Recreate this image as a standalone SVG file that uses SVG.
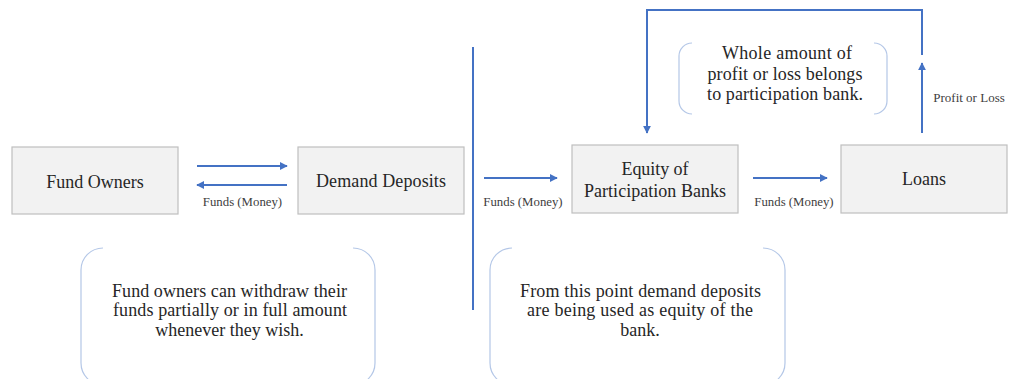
<svg xmlns="http://www.w3.org/2000/svg" width="1010" height="379" viewBox="0 0 1010 379">
  <style>
    text { fill: #262626; text-anchor: middle; }
    .box { fill: #f2f2f2; stroke: #bfbfbf; stroke-width: 1.2; }
    .small { fill: #404040; }
    .flow { fill: none; stroke: #4472c4; stroke-width: 2; }
    .bracket { fill: none; stroke: #b4c7e7; stroke-width: 1.2; }
  </style>
  <defs>
    <marker id="head" viewBox="0 0 10 10" refX="9" refY="5" markerWidth="4" markerHeight="4" orient="auto" markerUnits="strokeWidth">
      <path d="M0,0 L10,5 L0,10 z" fill="#4472c4"/>
    </marker>
  </defs>
  <rect width="1010" height="379" fill="#ffffff"/>

  <!-- divider between customer side and bank side -->
  <line x1="473" y1="47" x2="473" y2="310" stroke="#4472c4" stroke-width="2"/>

  <g id="fund-owners">
    <rect class="box" x="12" y="147" width="166" height="67"/>
    <text x="95" y="188" font-family="Liberation Serif, serif" font-size="18">Fund Owners</text>
  </g>

  <g id="demand-deposits">
    <rect class="box" x="298" y="147" width="166" height="67"/>
    <text x="381" y="187" font-family="Liberation Serif, serif" font-size="18" textLength="130" lengthAdjust="spacing">Demand Deposits</text>
  </g>

  <g id="equity">
    <rect class="box" x="572" y="145" width="166" height="68"/>
    <text x="655" y="175" font-family="Liberation Serif, serif" font-size="18" textLength="67" lengthAdjust="spacing">Equity of</text>
    <text x="655" y="197" font-family="Liberation Serif, serif" font-size="18" textLength="142" lengthAdjust="spacing">Participation Banks</text>
  </g>

  <g id="loans">
    <rect class="box" x="841" y="145" width="166" height="68"/>
    <text x="924" y="185" font-family="Liberation Serif, serif" font-size="18">Loans</text>
  </g>

  <g id="note-profit">
    <path class="bracket" d="M692,43 A13,13 0 0 0 679,56 L679,101 A13,13 0 0 0 692,114"/>
    <path class="bracket" d="M874,43 A13,13 0 0 1 887,56 L887,101 A13,13 0 0 1 874,114"/>
    <text x="787" y="59" font-family="Liberation Serif, serif" font-size="18" textLength="130" lengthAdjust="spacing">Whole amount of</text>
    <text x="785" y="79.5" font-family="Liberation Serif, serif" font-size="18" textLength="155" lengthAdjust="spacing">profit or loss belongs</text>
    <text x="785" y="100" font-family="Liberation Serif, serif" font-size="18" textLength="156" lengthAdjust="spacing">to participation bank.</text>
  </g>

  <g id="note-withdraw">
    <path class="bracket" d="M103,248 A22,22 0 0 0 81,270 L81,363 A22,22 0 0 0 103,385"/>
    <path class="bracket" d="M353,248 A22,22 0 0 1 375,270 L375,363 A22,22 0 0 1 353,385"/>
    <text x="229.5" y="296.5" font-family="Liberation Serif, serif" font-size="18" textLength="235" lengthAdjust="spacing">Fund owners can withdraw their</text>
    <text x="230" y="316" font-family="Liberation Serif, serif" font-size="18" textLength="234" lengthAdjust="spacing">funds partially or in full amount</text>
    <text x="229.5" y="335.5" font-family="Liberation Serif, serif" font-size="18">whenever they wish.</text>
  </g>

  <g id="note-equity">
    <path class="bracket" d="M512,248 A22,22 0 0 0 490,270 L490,363 A22,22 0 0 0 512,385"/>
    <path class="bracket" d="M763,248 A22,22 0 0 1 785,270 L785,363 A22,22 0 0 1 763,385"/>
    <text x="640.5" y="296.5" font-family="Liberation Serif, serif" font-size="18" textLength="241" lengthAdjust="spacing">From this point demand deposits</text>
    <text x="640" y="316" font-family="Liberation Serif, serif" font-size="18" textLength="226" lengthAdjust="spacing">are being used as equity of the</text>
    <text x="640" y="335.5" font-family="Liberation Serif, serif" font-size="18">bank.</text>
  </g>

  <g id="connectors">
    <line class="flow" x1="197" y1="166" x2="287" y2="166" marker-end="url(#head)"/>
    <line class="flow" x1="287" y1="185" x2="197" y2="185" marker-end="url(#head)"/>
    <text class="small" x="242.5" y="206" font-family="Liberation Serif, serif" font-size="12.8">Funds (Money)</text>

    <line class="flow" x1="484" y1="178" x2="557" y2="178" marker-end="url(#head)"/>
    <text class="small" x="523" y="206" font-family="Liberation Serif, serif" font-size="12.8">Funds (Money)</text>

    <line class="flow" x1="753" y1="178" x2="827" y2="178" marker-end="url(#head)"/>
    <text class="small" x="794" y="206" font-family="Liberation Serif, serif" font-size="12.8">Funds (Money)</text>

    <line class="flow" x1="922" y1="133" x2="922" y2="63" marker-end="url(#head)"/>
    <text class="small" x="969" y="102" font-family="Liberation Serif, serif" font-size="13">Profit or Loss</text>
    <polyline class="flow" points="922,55 922,10 647,10 647,133" marker-end="url(#head)"/>
  </g>
</svg>
